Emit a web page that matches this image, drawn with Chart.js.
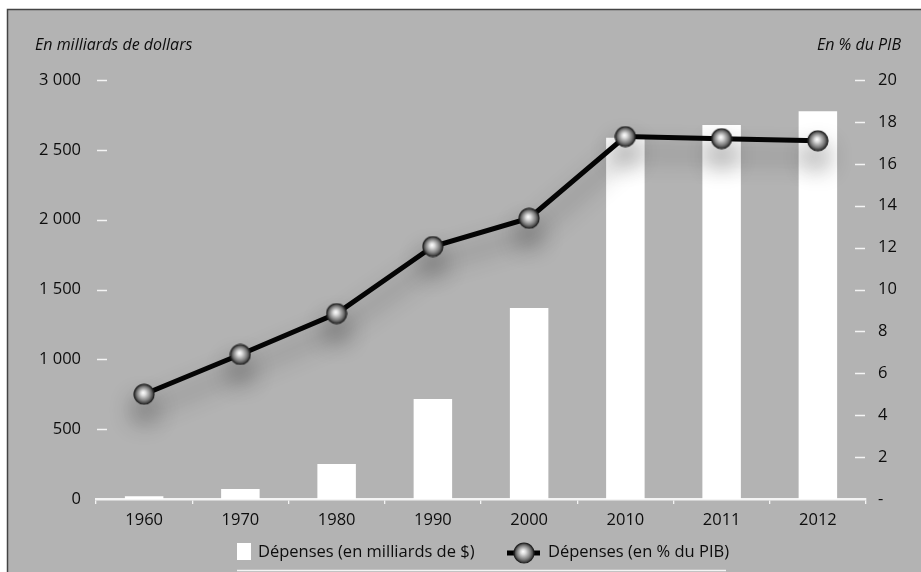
<!DOCTYPE html>
<html>
<head>
<meta charset="utf-8">
<script src="https://cdn.jsdelivr.net/npm/chart.js@4.4.0/dist/chart.umd.min.js"></script>
<style>
  html, body { margin: 0; padding: 0; background: #fff; }
  #wrap { width: 921px; height: 572px; position: relative; }
</style>
</head>
<body>
<div id="wrap"><canvas id="graphique" width="921" height="572"></canvas></div>
<script>
// Données
const annees = ['1960', '1970', '1980', '1990', '2000', '2010', '2011', '2012'];
const depensesMilliards = [20, 72, 250, 716, 1367, 2586, 2677, 2777];
const depensesPctPIB = [5.0, 6.9, 8.85, 12.05, 13.4, 17.3, 17.2, 17.1];
const ticksGauche = [0, 500, 1000, 1500, 2000, 2500, 3000];
const ticksDroite = [0, 2, 4, 6, 8, 10, 12, 14, 16, 18, 20];

const POLICE = '"Open Sans", "DejaVu Sans", sans-serif';
const GRIS = '#b3b3b3';
const TEXTE = '#0d0d0d';

// Bille grise pour les points de la courbe
function creerBille(r) {
    const c = document.createElement('canvas');
    c.width = c.height = r * 2 + 2;
    const g = c.getContext('2d');
    const cx = r + 1, cy = r + 1;
    const grad = g.createRadialGradient(cx - 1, cy - 1.5, 0, cx, cy, r);
    grad.addColorStop(0, '#ffffff');
    grad.addColorStop(0.25, '#dcdcdc');
    grad.addColorStop(0.7, '#7c7c7c');
    grad.addColorStop(1, '#2a2a2a');
    g.fillStyle = grad;
    g.beginPath();
    g.arc(cx, cy, r, 0, Math.PI * 2);
    g.fill();
    g.strokeStyle = '#222';
    g.lineWidth = 1.2;
    g.stroke();
    return c;
}
const bille = creerBille(10);

// Fond et cadre
const cadre = {
    id: 'cadre',
    beforeDraw(chart) {
        const ctx = chart.ctx;
        ctx.save();
        ctx.fillStyle = '#fff';
        ctx.fillRect(0, 0, chart.width, chart.height);
        ctx.fillStyle = GRIS;
        ctx.fillRect(8, 10, chart.width - 8, chart.height - 10);
        ctx.strokeStyle = '#444';
        ctx.lineWidth = 1.5;
        ctx.beginPath();
        ctx.moveTo(7.5, chart.height);
        ctx.lineTo(7.5, 9.5);
        ctx.lineTo(chart.width, 9.5);
        ctx.stroke();
        ctx.restore();
    }
};

// Petits tirets blancs à côté des graduations
const tirets = {
    id: 'tirets',
    beforeDatasetsDraw(chart) {
        const ctx = chart.ctx;
        const y = chart.scales.y, y1 = chart.scales.y1;
        const ca = chart.chartArea;
        ctx.save();
        ctx.strokeStyle = '#f4f4f4';
        ctx.lineWidth = 1.3;
        ctx.beginPath();
        ticksGauche.forEach(v => {
            if (v === 0) return;
            const p = Math.round(y.getPixelForValue(v)) + 0.5;
            ctx.moveTo(ca.left + 1, p);
            ctx.lineTo(ca.left + 11, p);
        });
        ticksDroite.forEach(v => {
            if (v === 0) return;
            const p = Math.round(y1.getPixelForValue(v)) + 0.5;
            ctx.moveTo(ca.right - 11, p);
            ctx.lineTo(ca.right - 1, p);
        });
        ctx.stroke();
        ctx.restore();
    }
};

// Ombre sous la courbe
const ombre = {
    id: 'ombre',
    beforeDatasetDraw(chart, args) {
        if (args.index !== 1) return;
        const ctx = chart.ctx;
        ctx.save();
        ctx.shadowColor = 'rgba(0,0,0,0.45)';
        ctx.shadowBlur = 24;
        ctx.shadowOffsetX = 0;
        ctx.shadowOffsetY = 16;
    },
    afterDatasetDraw(chart, args) {
        if (args.index !== 1) return;
        chart.ctx.restore();
    }
};

// Titres des axes et légende
const textes = {
    id: 'textes',
    afterDraw(chart) {
        const ctx = chart.ctx;
        ctx.save();
        ctx.fillStyle = TEXTE;
        ctx.textBaseline = 'middle';
        ctx.font = 'italic 16px ' + POLICE;
        ctx.textAlign = 'left';
        ctx.fillText('En milliards de dollars', 35, 45);
        ctx.textAlign = 'right';
        ctx.fillText('En % du PIB', 901, 45);

        // légende
        const yL = 552;
        ctx.font = '16.5px ' + POLICE;
        ctx.textAlign = 'left';
        ctx.fillStyle = '#fff';
        ctx.fillRect(237, 543, 14, 17);
        ctx.fillStyle = TEXTE;
        ctx.fillText(chart.data.datasets[0].label, 258, yL);

        ctx.strokeStyle = '#000';
        ctx.lineWidth = 5;
        ctx.beginPath();
        ctx.moveTo(507, yL + 1);
        ctx.lineTo(540, yL + 1);
        ctx.stroke();
        ctx.drawImage(bille, 524 - bille.width / 2, yL + 1 - bille.height / 2);
        ctx.fillText(chart.data.datasets[1].label, 548, yL);

        ctx.strokeStyle = '#f2f2f2';
        ctx.lineWidth = 1.5;
        ctx.beginPath();
        ctx.moveTo(237, 570.5);
        ctx.lineTo(726, 570.5);
        ctx.stroke();
        ctx.restore();
    }
};

new Chart(document.getElementById('graphique'), {
    type: 'bar',
    data: {
        labels: annees,
        datasets: [
            {
                label: 'Dépenses (en milliards de $)',
                data: depensesMilliards,
                backgroundColor: '#ffffff',
                borderWidth: 0,
                barPercentage: 0.4,
                categoryPercentage: 1,
                yAxisID: 'y',
                order: 2
            },
            {
                type: 'line',
                label: 'Dépenses (en % du PIB)',
                data: depensesPctPIB,
                borderColor: '#050505',
                borderWidth: 5,
                pointStyle: bille,
                pointRadius: 10,
                pointHoverRadius: 10,
                tension: 0,
                fill: false,
                yAxisID: 'y1',
                order: 1
            }
        ]
    },
    options: {
        responsive: false,
        animation: false,
        devicePixelRatio: 1,
        layout: { padding: { top: 80, left: 0, right: 0, bottom: 0 } },
        plugins: {
            legend: { display: false },
            tooltip: { enabled: false }
        },
        scales: {
            x: {
                offset: true,
                grid: {
                    display: true, drawOnChartArea: false, drawTicks: true,
                    tickLength: 5, color: '#f4f4f4', lineWidth: 1.3, offset: true
                },
                border: { display: true, color: '#f4f4f4', width: 2.5 },
                ticks: { color: TEXTE, font: { family: POLICE, size: 16.5 }, padding: 6 },
                afterFit(scale) { scale.height = 73; }
            },
            y: {
                position: 'left',
                min: 0, max: 3000,
                grid: { display: false, drawTicks: false },
                border: { display: false },
                afterBuildTicks(scale) { scale.ticks = ticksGauche.map(v => ({ value: v })); },
                ticks: {
                    color: TEXTE, font: { family: POLICE, size: 16.5 }, padding: 15,
                    callback: v => String(v).replace(/\B(?=(\d{3})+(?!\d))/g, ' ')
                },
                afterFit(scale) { scale.width = 96; }
            },
            y1: {
                position: 'right',
                min: 0, max: 20,
                grid: { display: false, drawTicks: false },
                border: { display: false },
                afterBuildTicks(scale) { scale.ticks = ticksDroite.map(v => ({ value: v })); },
                ticks: {
                    color: TEXTE, font: { family: POLICE, size: 16.5 }, padding: 12,
                    callback: v => (v === 0 ? '-' : String(v))
                },
                afterFit(scale) { scale.width = 55; }
            }
        }
    },
    plugins: [cadre, tirets, ombre, textes]
});
</script>
</body>
</html>
